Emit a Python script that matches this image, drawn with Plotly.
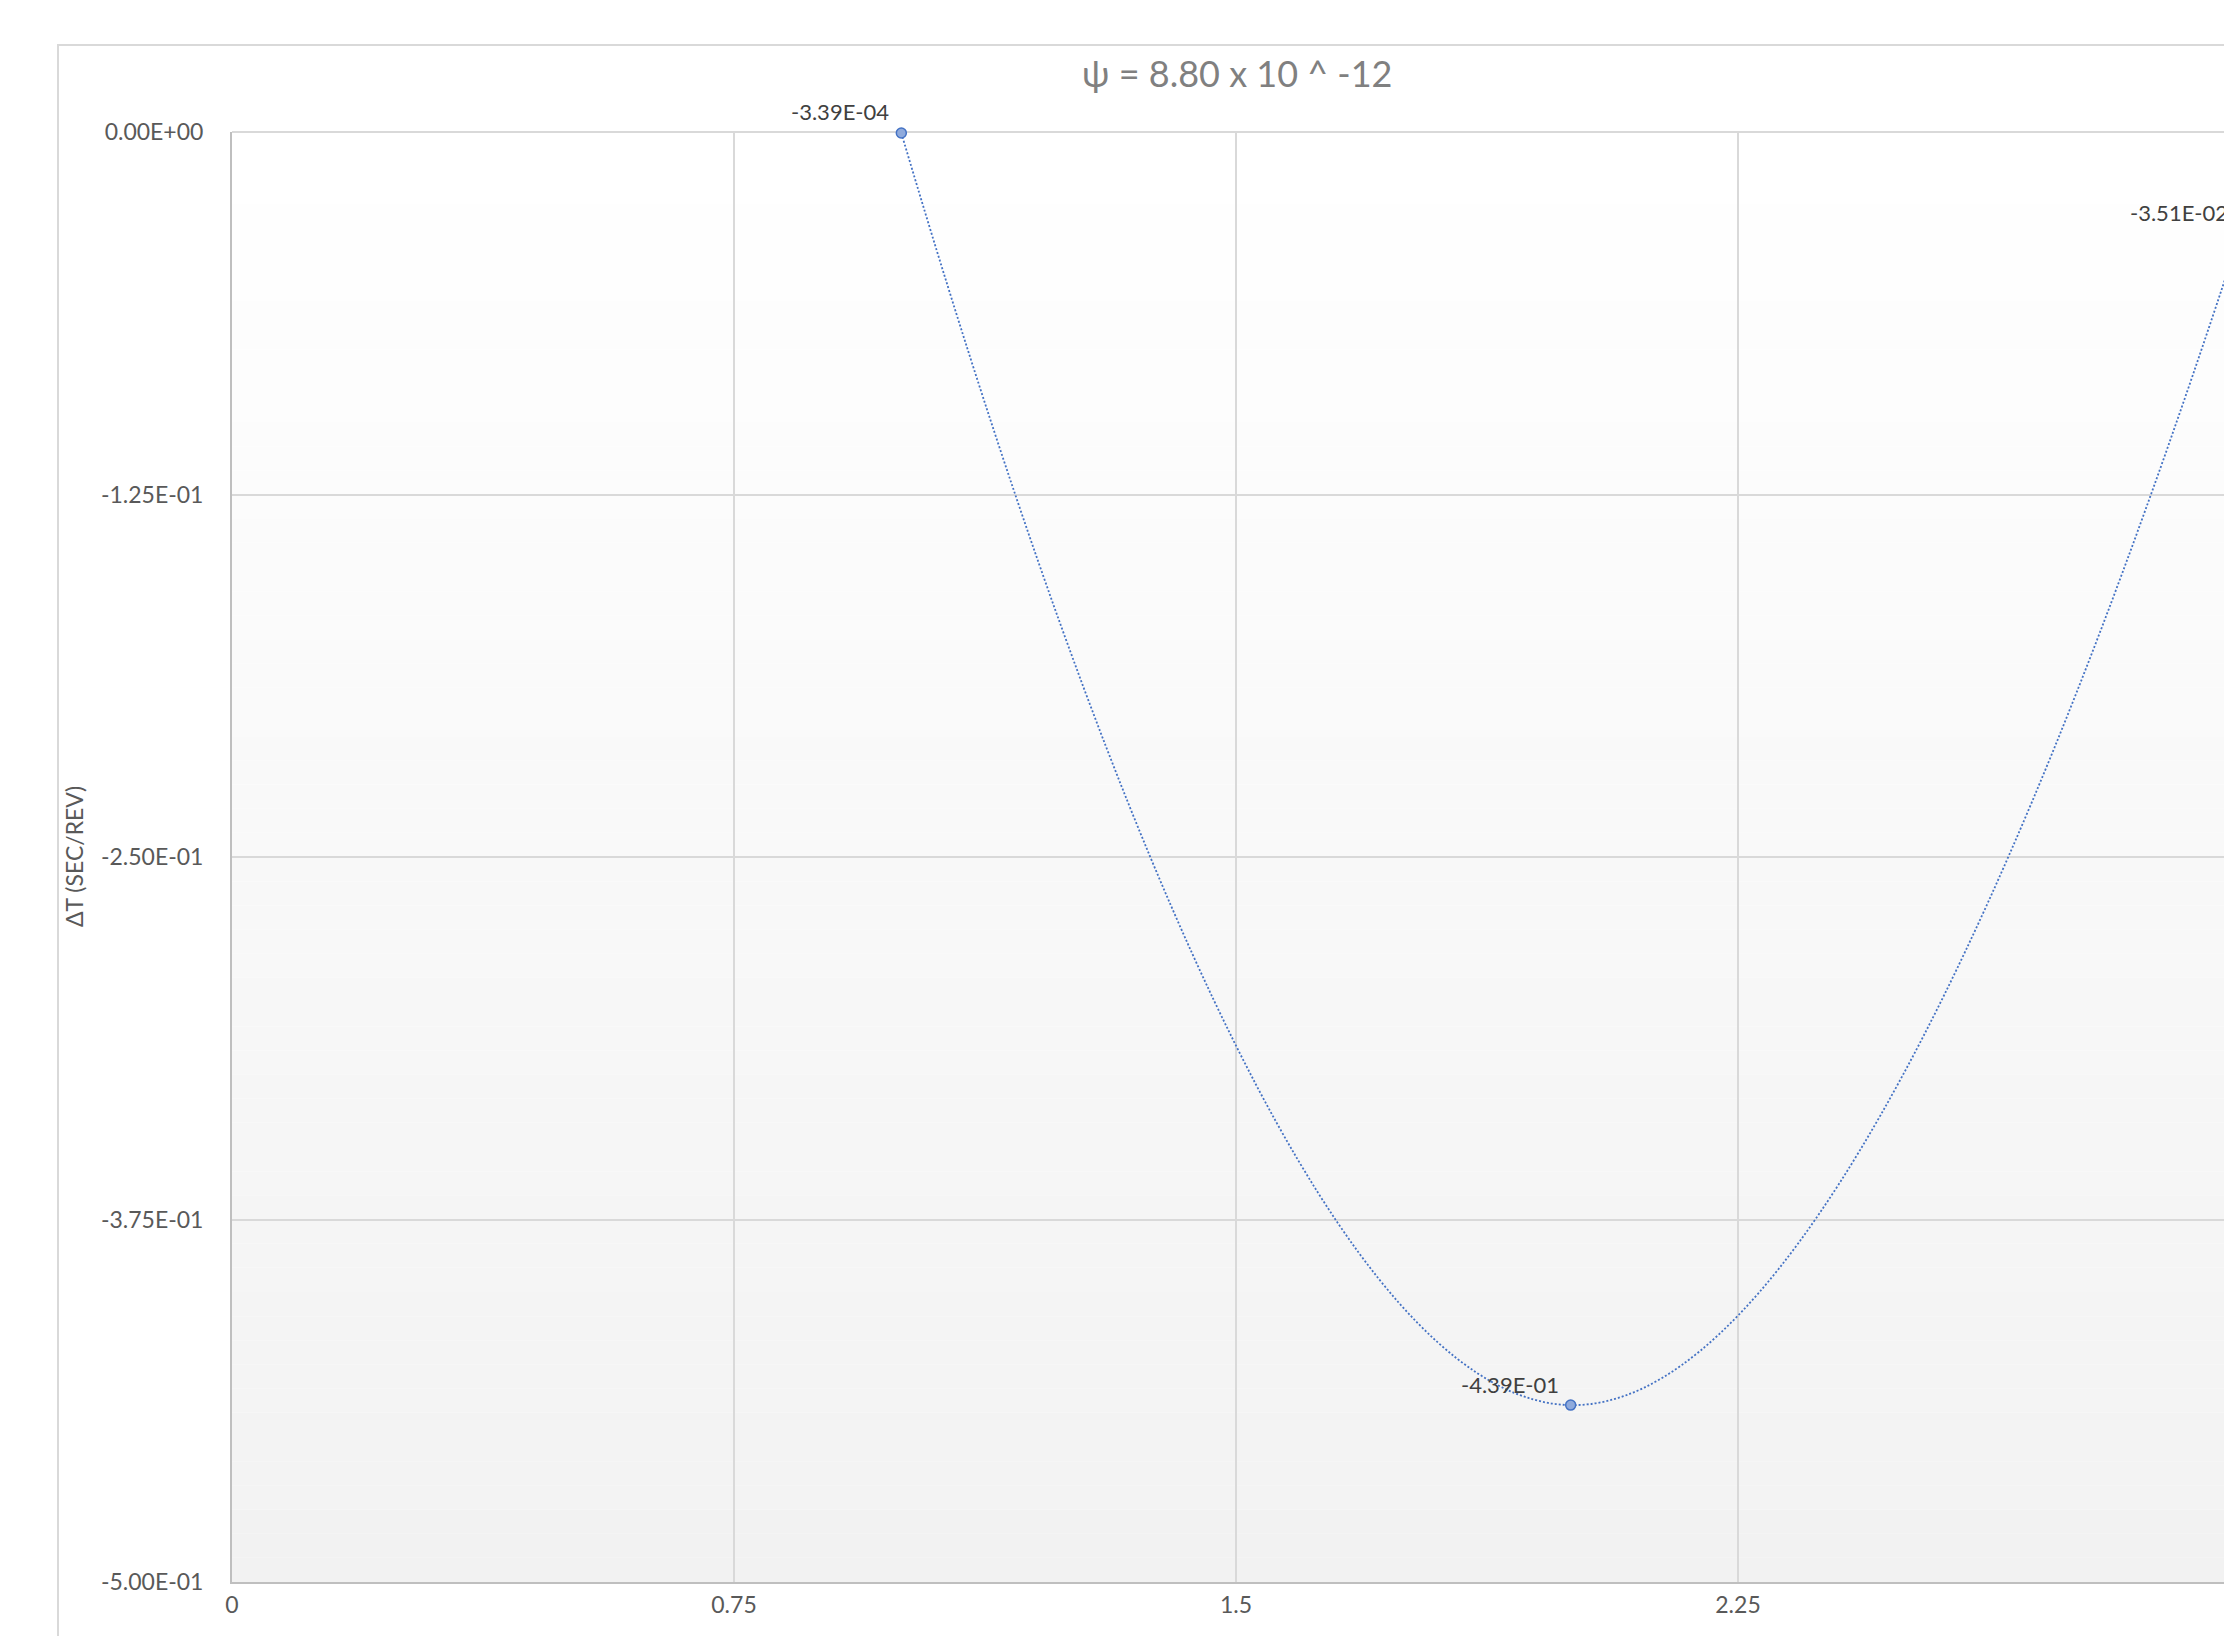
import plotly.graph_objects as go

# ---- data ----
x_vals = [1.0, 2.0, 3.0]
y_vals = [-3.39e-04, -4.39e-01, -3.51e-02]
x_ticks = [0, 0.75, 1.5, 2.25, 3.0]
x_tick_labels = ["0", "0.75", "1.5", "2.25", "3"]
y_ticks = [0.0, -0.125, -0.25, -0.375, -0.5]
title_text = "ψ = 8.80 x 10 ^ -12"
y_title = "ΔT (SEC/REV)"

# page has an 8px body margin; figure coords = page coords - 8
OFF = 8
W, H = 2232 - OFF, 1636 - OFF
L, T, R = 232 - OFF, 132 - OFF, 0
B = H - (1582 - OFF)
plot_w = W - L - R
plot_h = H - T - B
px_per_x = 502 / 0.75
px_per_y = plot_h / 0.5
x_max = plot_w / px_per_x

FONT = "Lato, Roboto, 'DejaVu Sans', sans-serif"
labels = ["{:.2E}".format(v) for v in y_vals]
y_tick_labels = ["{:.2E}".format(v) for v in y_ticks]

fig = go.Figure()
fig.add_trace(go.Scatter(
    x=x_vals, y=y_vals,
    mode="lines+markers",
    line=dict(color="#4472C4", width=1.8, dash="2px,2px", shape="spline", smoothing=1.3),
    marker=dict(size=10, color="#8FAADC", line=dict(color="#4472C4", width=1.5)),
    cliponaxis=False, showlegend=False, hoverinfo="x+y",
))

# gradient plot background
shapes = []
n = 60
for i in range(n):
    t = i / (n - 1)
    c = int(round(255 - (255 - 242) * t))
    shapes.append(dict(type="rect", xref="paper", yref="paper",
                       x0=0, x1=1, y0=1 - (i + 1) / n, y1=1 - i / n,
                       fillcolor=f"rgb({c},{c},{c})", line=dict(width=0), layer="below"))
# chart border
shapes.append(dict(type="rect", xref="paper", yref="paper",
                   x0=(58 - OFF - L) / plot_w, x1=1.3, y0=-0.2,
                   y1=1 + (T - (45 - OFF)) / plot_h,
                   line=dict(color="#D9D9D9", width=2), fillcolor="rgba(0,0,0,0)", layer="below"))

annotations = [
    dict(text=title_text, xref="paper", yref="paper",
         x=(1237 - OFF - L) / plot_w, y=1 + (T - (73 - OFF)) / plot_h,
         xanchor="center", yanchor="middle", showarrow=False,
         font=dict(family=FONT, size=36, color="#808080")),
    dict(text=y_title, xref="paper", yref="paper",
         x=(74 - OFF - L) / plot_w, y=0.5, textangle=-90,
         xanchor="center", yanchor="middle", showarrow=False,
         font=dict(family=FONT, size=23, color="#595959")),
]
# data labels: above-left of each point (label offset in px converted to axis units)
LABEL_DX_PX, LABEL_DY_PX = -12, 21
for xv, yv, lab in zip(x_vals, y_vals, labels):
    annotations.append(dict(
        text=lab, x=xv, y=yv, xref="x", yref="y",
        showarrow=True, arrowcolor="rgba(0,0,0,0)", arrowwidth=0.1, arrowhead=0,
        axref="x", ayref="y",
        ax=xv + LABEL_DX_PX / px_per_x, ay=yv + LABEL_DY_PX / px_per_y,
        xanchor="right", yanchor="middle", borderpad=0, borderwidth=0,
        font=dict(family=FONT, size=22, color="#404040")))

fig.update_layout(
    width=W, height=H,
    margin=dict(l=L, r=R, t=T, b=B, pad=0),
    paper_bgcolor="white", plot_bgcolor="rgba(0,0,0,0)",
    font=dict(family=FONT, size=23, color="#595959"),
    shapes=shapes,
    annotations=annotations,
)
fig.update_xaxes(range=[0, x_max], tickvals=x_ticks, ticktext=x_tick_labels,
                 showgrid=True, gridcolor="#D9D9D9", gridwidth=2,
                 showline=True, linecolor="#BFBFBF", linewidth=2,
                 zeroline=False, ticks="", ticklabelstandoff=1,
                 tickfont=dict(family=FONT, size=23, color="#595959"))
fig.update_yaxes(range=[-0.5, 0], tickvals=y_ticks, ticktext=y_tick_labels,
                 showgrid=True, gridcolor="#D9D9D9", gridwidth=2,
                 showline=True, linecolor="#BFBFBF", linewidth=2,
                 zeroline=True, zerolinecolor="#D9D9D9", zerolinewidth=2,
                 ticks="", ticklabelstandoff=22,
                 tickfont=dict(family=FONT, size=23, color="#595959"))

fig.write_html("out.html")
